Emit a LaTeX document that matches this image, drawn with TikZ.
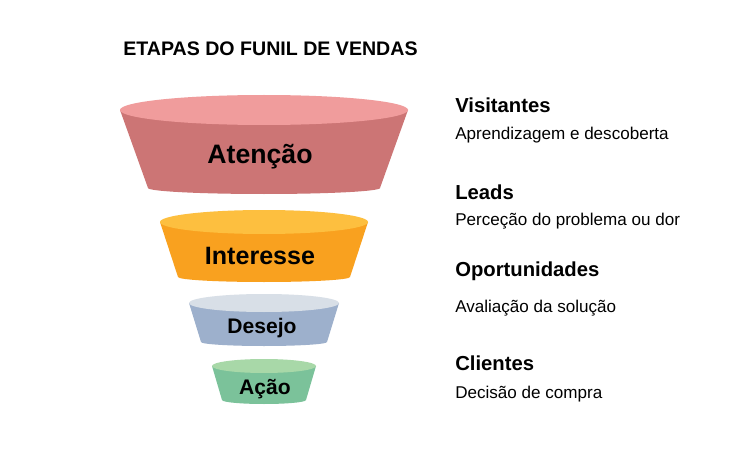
\documentclass[tikz,border=0pt]{standalone}
\usepackage{fontspec}
\setmainfont{Liberation Sans}
\usetikzlibrary{positioning}
\definecolor{topA}{HTML}{F09C9C}
\definecolor{bodyA}{HTML}{CC7575}
\definecolor{topB}{HTML}{FDBF3F}
\definecolor{bodyB}{HTML}{F9A11F}
\definecolor{topC}{HTML}{D8DFE7}
\definecolor{bodyC}{HTML}{9DB0CC}
\definecolor{topD}{HTML}{A8D8A8}
\definecolor{bodyD}{HTML}{7BC29A}
\tikzset{
    stage/.style={font=\bfseries, text=black, inner sep=0pt},
    head/.style={font=\fontsize{15.2}{17}\selectfont\bfseries, anchor=west, inner sep=0pt},
    desc/.style={font=\fontsize{12.8}{15}\selectfont, anchor=west, inner sep=0pt}
}
% #1 top y, #2 top rx, #3 top ry, #4 bottom y, #5 bottom rx, #6 bottom ry, #7 top colour, #8 body colour
\newcommand{\funnelseg}[8]{
    \fill[#8] (264-#2,#1) -- (264-#5,#4)
        arc[start angle=180, end angle=0, x radius=#5, y radius=#6] -- (264+#2,#1) -- cycle;
    \fill[#7] (264,#1) ellipse [x radius=#2, y radius=#3];
}
\begin{document}
\begin{tikzpicture}[x=0.75pt, y=-0.75pt]
    \useasboundingbox[fill=white] (0,0) rectangle (729,460);

    % Title
    \node[anchor=west, inner sep=0pt, font=\fontsize{14.7}{17}\selectfont\bfseries] (title) at (123,49) {ETAPAS DO FUNIL DE VENDAS};

    % Funnel
    \funnelseg{110}{144}{15}{188}{116}{6}{topA}{bodyA}
    \funnelseg{222}{104}{12}{277}{86}{5}{topB}{bodyB}
    \funnelseg{303}{75}{9}{342}{63}{4}{topC}{bodyC}
    \funnelseg{366}{52}{7}{400}{42}{4}{topD}{bodyD}

    \node[stage, font=\fontsize{20}{24}\selectfont\bfseries] (atencao) at (260,157) {Atenção};
    \node[stage, font=\fontsize{18.8}{22}\selectfont\bfseries] (interesse) at (260,256) {Interesse};
    \node[stage, font=\fontsize{15.8}{19}\selectfont\bfseries] (desejo) at (262,328) {Desejo};
    \node[stage, font=\fontsize{15.8}{19}\selectfont\bfseries] (acao) at (265,389) {Ação};

    % Descriptions
    \node[head] (visit) at (455,105) {Visitantes};
    \node[desc] (visitD) at (455,135) {Aprendizagem e descoberta};
    \node[head] (leads) at (455,192) {Leads};
    \node[desc] (leadsD) at (455,221) {Perceção do problema ou dor};
    \node[head] (oport) at (455,271) {Oportunidades};
    \node[desc] (oportD) at (455,308) {Avaliação da solução};
    \node[head] (client) at (455,363) {Clientes};
    \node[desc] (clientD) at (455,394) {Decisão de compra};
\end{tikzpicture}
\end{document}
